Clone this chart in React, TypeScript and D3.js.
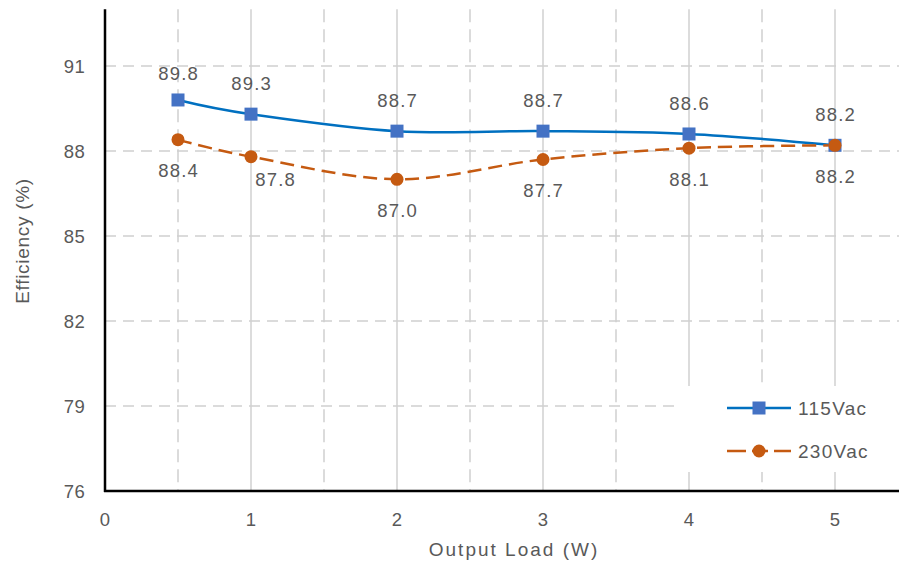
import React from "react";
import * as d3 from "d3";

const loads = [0.5, 1, 2, 3, 4, 5];
const eff115 = [89.8, 89.3, 88.7, 88.7, 88.6, 88.2];
const eff230 = [88.4, 87.8, 87.0, 87.7, 88.1, 88.2];
const yTicks = [76, 79, 82, 85, 88, 91];
const xTicks = [0, 1, 2, 3, 4, 5];
const xHalfTicks = [0.5, 1.5, 2.5, 3.5, 4.5];
const seriesNames = ["115Vac", "230Vac"];

const W = 899;
const H = 567;
const FONT = "'Liberation Sans', Arial, Helvetica, sans-serif";
const TXT = "#595959";
const GRID = "#d0d0d0";
const BLUE_LINE = "#0070C0";
const BLUE_MARK = "#4472C4";
const ORANGE = "#C55A11";

export default function App() {
  const x = d3.scaleLinear().domain([0, 5.5]).range([105, 908]);
  const y = d3.scaleLinear().domain([76, 93]).range([491, 9.3]);
  const line = d3
    .line<number>()
    .x((_, i) => x(loads[i]))
    .y((d) => y(d))
    .curve(d3.curveCatmullRom.alpha(0));

  const top = y(93);
  const bottom = y(76);
  const right = W;

  const lowNudge: Record<number, [number, number]> = { 1: [24, -8] };
  const highNudge: Record<number, [number, number]> = { 0: [0, 4] };

  return (
    <svg
      width={W}
      height={H}
      style={{ position: "absolute", left: 0, top: 0, background: "#fff" }}
      fontFamily={FONT}
    >
      <rect x={0} y={0} width={W} height={H} fill="#fff" />
      {xTicks.filter((t) => t > 0).map((t) => (
        <line key={"vg" + t} x1={x(t)} x2={x(t)} y1={top} y2={bottom} stroke={GRID} strokeWidth={1.5} />
      ))}
      {xHalfTicks.map((t) => (
        <line key={"vh" + t} x1={x(t)} x2={x(t)} y1={top} y2={bottom} stroke={GRID} strokeWidth={1.5} strokeDasharray="13,7" />
      ))}
      {yTicks.filter((t) => t > 76).map((t) => (
        <line key={"hg" + t} x1={x(0)} x2={right} y1={y(t)} y2={y(t)} stroke={GRID} strokeWidth={1.5} strokeDasharray="11,7" />
      ))}
      <rect x={678} y={386} width={221} height={86} fill="#fff" />
      <line x1={x(0)} x2={x(0)} y1={top} y2={bottom + 1} stroke="#000" strokeWidth={2.5} />
      <line x1={x(0) - 1} x2={right} y1={bottom} y2={bottom} stroke="#000" strokeWidth={2.5} />
      {yTicks.map((t) => (
        <text key={"yt" + t} x={x(0) - 20} y={y(t)} dy="0.36em" textAnchor="end" fontSize={18.5} fill={TXT} letterSpacing={0.3}>
          {t}
        </text>
      ))}
      {xTicks.map((t) => (
        <text key={"xt" + t} x={x(t)} y={bottom + 28} dy="0.36em" textAnchor="middle" fontSize={18.5} fill={TXT}>
          {t}
        </text>
      ))}
      <text x={514} y={549} dy="0.36em" textAnchor="middle" fontSize={19} fill={TXT} letterSpacing={2}>
        Output Load (W)
      </text>
      <text transform={`translate(22,241) rotate(-90)`} dy="0.36em" textAnchor="middle" fontSize={19} fill={TXT} letterSpacing={0.7}>
        Efficiency (%)
      </text>
      <path d={line(eff115) || ""} fill="none" stroke={BLUE_LINE} strokeWidth={2.5} />
      <path d={line(eff230) || ""} fill="none" stroke={ORANGE} strokeWidth={2.5} strokeDasharray="14,7" />
      {eff115.map((v, i) => (
        <rect key={"m1" + i} x={x(loads[i]) - 6.5} y={y(v) - 6.5} width={13} height={13} fill={BLUE_MARK} />
      ))}
      {eff230.map((v, i) => (
        <circle key={"m2" + i} cx={x(loads[i])} cy={y(v)} r={6.5} fill={ORANGE} />
      ))}
      {eff115.map((v, i) => {
        const n = highNudge[i] || [0, 0];
        return (
          <text key={"l1" + i} x={x(loads[i]) + n[0] + 0.6} y={y(v) - 31 + n[1]} dy="0.36em" textAnchor="middle" fontSize={18.5} fill={TXT} letterSpacing={1.2}>
            {v.toFixed(1)}
          </text>
        );
      })}
      {eff230.map((v, i) => {
        const n = lowNudge[i] || [0, 0];
        return (
          <text key={"l2" + i} x={x(loads[i]) + n[0] + 0.6} y={y(v) + 31 + n[1]} dy="0.36em" textAnchor="middle" fontSize={18.5} fill={TXT} letterSpacing={1.2}>
            {v.toFixed(1)}
          </text>
        );
      })}
      <g>
        <line x1={727} x2={791} y1={408} y2={408} stroke={BLUE_LINE} strokeWidth={2.5} />
        <rect x={752.5} y={401.5} width={13} height={13} fill={BLUE_MARK} />
        <text x={798} y={408} dy="0.36em" fontSize={19} fill={TXT} letterSpacing={1.3}>
          {seriesNames[0]}
        </text>
        <line x1={727} x2={791} y1={451} y2={451} stroke={ORANGE} strokeWidth={2.5} strokeDasharray="19,6,16,6,18" />
        <circle cx={759} cy={451} r={6.5} fill={ORANGE} />
        <text x={798} y={451} dy="0.36em" fontSize={19} fill={TXT} letterSpacing={1.3}>
          {seriesNames[1]}
        </text>
      </g>
    </svg>
  );
}
